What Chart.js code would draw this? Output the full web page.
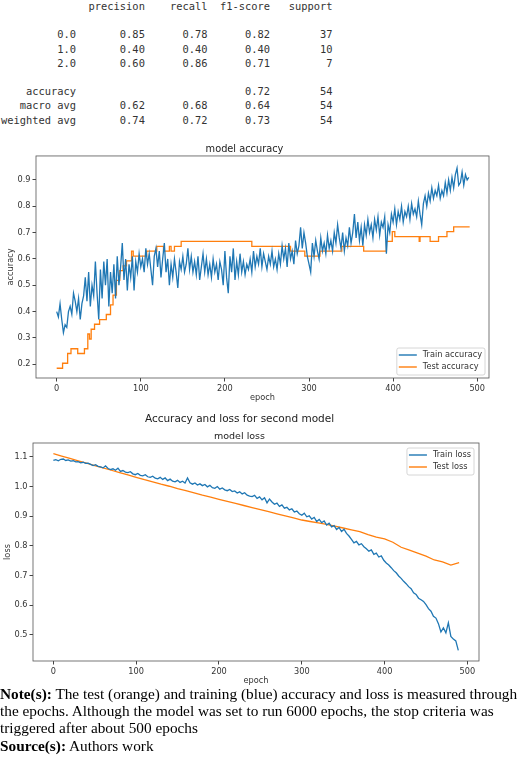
<!DOCTYPE html>
<html>
<head>
<meta charset="utf-8">
<script src="https://cdn.jsdelivr.net/npm/chart.js@4.4.0/dist/chart.umd.min.js"></script>
<style>
  body { margin: 0; background: #fff; width: 520px; height: 767px; position: relative; overflow: hidden; }
  #report { position: absolute; left: 1px; top: -1px; margin: 0; font: 10.4px "DejaVu Sans Mono", monospace; line-height: 14.2px; color: #333; white-space: pre; }
  canvas { position: absolute; left: 0; }
  #acc { top: 140px; }
  #loss { top: 404px; }
  #note { position: absolute; left: 0; top: 685px; width: 520px; font: 15.3px "Liberation Serif", serif; line-height: 17.2px; color: #000; white-space: nowrap; }
</style>
</head>
<body>
<pre id="report"></pre>
<canvas id="acc" width="520" height="268"></canvas>
<canvas id="loss" width="520" height="283"></canvas>
<div id="note"><b>Note(s):</b> The test (orange) and training (blue) accuracy and loss is measured through<br>the epochs. Although the model was set to run 6000 epochs, the stop criteria was<br>triggered after about 500 epochs<br><b>Source(s):</b> Authors work</div>
<script>
// classification report
const reportRows = ["0.0", "1.0", "2.0"];
const precision = ["0.85", "0.40", "0.60"];
const recall = ["0.78", "0.40", "0.86"];
const f1 = ["0.82", "0.40", "0.71"];
const support = [37, 10, 7];
const summaryRows = ["accuracy", "macro avg", "weighted avg"];
const summaryPrec = ["", "0.62", "0.74"];
const summaryRec = ["", "0.68", "0.72"];
const summaryF1 = ["0.72", "0.64", "0.73"];
const summarySup = [54, 54, 54];

// model accuracy (train read every 2 epochs, test as step changes)
const ACC_STEP = 2;
const trainAcc = [
  0.40, 0.38, 0.43, 0.37, 0.32, 0.35, 0.34, 0.40, 0.42, 0.39,
  0.47, 0.44, 0.40, 0.45, 0.37, 0.43, 0.46, 0.53, 0.44, 0.55,
  0.42, 0.50, 0.46, 0.59, 0.47, 0.37, 0.56, 0.45, 0.59, 0.50,
  0.60, 0.42, 0.55, 0.47, 0.58, 0.45, 0.61, 0.50, 0.57, 0.66,
  0.52, 0.60, 0.48, 0.58, 0.53, 0.61, 0.48, 0.59, 0.55, 0.62,
  0.57, 0.60, 0.55, 0.64, 0.58, 0.62, 0.56, 0.50, 0.61, 0.64,
  0.57, 0.63, 0.53, 0.60, 0.66, 0.55, 0.60, 0.50, 0.58, 0.53,
  0.60, 0.55, 0.49, 0.59, 0.56, 0.61, 0.55, 0.58, 0.64, 0.56,
  0.61, 0.55, 0.59, 0.54, 0.61, 0.52, 0.57, 0.62, 0.55, 0.60,
  0.54, 0.58, 0.53, 0.60, 0.55, 0.58, 0.52, 0.59, 0.56, 0.50,
  0.63, 0.53, 0.47, 0.61, 0.55, 0.64, 0.52, 0.59, 0.54, 0.62,
  0.55, 0.59, 0.54, 0.58, 0.56, 0.60, 0.55, 0.63, 0.57, 0.61,
  0.58, 0.64, 0.57, 0.62, 0.59, 0.56, 0.61, 0.58, 0.63, 0.57,
  0.60, 0.56, 0.62, 0.58, 0.65, 0.60, 0.64, 0.57, 0.66, 0.60,
  0.63, 0.58, 0.67, 0.62, 0.65, 0.72, 0.64, 0.70, 0.66, 0.61,
  0.58, 0.55, 0.66, 0.61, 0.67, 0.63, 0.60, 0.68, 0.63, 0.66,
  0.62, 0.69, 0.64, 0.67, 0.63, 0.70, 0.66, 0.73, 0.68, 0.64,
  0.70, 0.63, 0.68, 0.65, 0.72, 0.66, 0.70, 0.77, 0.68, 0.74,
  0.67, 0.72, 0.65, 0.73, 0.69, 0.75, 0.70, 0.73, 0.68, 0.75,
  0.71, 0.76, 0.69, 0.74, 0.72, 0.76, 0.62, 0.73, 0.70, 0.77,
  0.74, 0.79, 0.73, 0.78, 0.75, 0.80, 0.74, 0.78, 0.76, 0.80,
  0.75, 0.81, 0.77, 0.79, 0.76, 0.82, 0.77, 0.73, 0.81, 0.84,
  0.80, 0.85, 0.82, 0.87, 0.83, 0.86, 0.84, 0.88, 0.83, 0.86,
  0.84, 0.89, 0.85, 0.90, 0.86, 0.91, 0.87, 0.92, 0.945, 0.88,
  0.89, 0.93, 0.88, 0.92, 0.90, 0.91
];
const testAccEpochs = [0, 7, 13, 17, 25, 33, 37, 39, 41, 45, 51, 59, 64, 67, 71, 75, 79, 83, 89, 91,
  107, 119, 127, 134, 136, 140, 148, 232, 278, 295, 313, 339, 365, 392, 399, 402, 431, 432, 444, 454,
  464, 472, 491];
const testAcc = [0.185, 0.204, 0.241, 0.259, 0.241, 0.259, 0.315, 0.296, 0.333, 0.352, 0.370, 0.389, 0.426, 0.463, 0.519, 0.556, 0.574, 0.593, 0.630, 0.611,
  0.630, 0.648, 0.630, 0.648, 0.630, 0.648, 0.667, 0.648, 0.630, 0.611, 0.630, 0.648, 0.630, 0.667, 0.704, 0.685, 0.667, 0.685, 0.667, 0.685,
  0.704, 0.722, 0.722];

// model loss
const LOSS_STEP = 3;
const trainLoss = [
  1.088, 1.091, 1.087, 1.092, 1.093, 1.088, 1.090, 1.086, 1.087, 1.083,
  1.084, 1.080, 1.082, 1.078, 1.079, 1.075, 1.071, 1.074, 1.068, 1.066,
  1.063, 1.070, 1.061, 1.057, 1.060, 1.055, 1.062, 1.051, 1.054, 1.049,
  1.047, 1.050, 1.043, 1.040, 1.044, 1.038, 1.036, 1.040, 1.033, 1.031,
  1.035, 1.028, 1.026, 1.031, 1.024, 1.029, 1.020, 1.025, 1.018, 1.016,
  1.021, 1.014, 1.018, 1.012, 1.029, 1.013, 1.008, 1.012, 1.005, 1.009,
  1.003, 1.007, 0.999, 1.004, 0.996, 0.994, 1.000, 0.991, 0.995, 0.989,
  0.986, 0.990, 0.983, 0.985, 0.978, 0.982, 0.975, 0.979, 0.971, 0.968,
  0.966, 0.970, 0.960, 0.965, 0.955, 0.962, 0.945, 0.958, 0.948, 0.940,
  0.944, 0.933, 0.938, 0.927, 0.930, 0.921, 0.925, 0.914, 0.917, 0.908,
  0.903, 0.910, 0.898, 0.901, 0.890, 0.896, 0.882, 0.889, 0.878, 0.884,
  0.870, 0.876, 0.864, 0.868, 0.855, 0.862, 0.848, 0.856, 0.842, 0.833,
  0.822, 0.810, 0.815, 0.803, 0.807, 0.797, 0.790, 0.782, 0.786, 0.771,
  0.775, 0.762, 0.766, 0.751, 0.742, 0.735, 0.726, 0.716, 0.709, 0.698,
  0.690, 0.680, 0.672, 0.662, 0.655, 0.641, 0.636, 0.623, 0.618, 0.612,
  0.601, 0.588, 0.579, 0.562, 0.556, 0.537, 0.509, 0.523, 0.506, 0.540,
  0.494, 0.485, 0.479, 0.447
];
const TEST_LOSS_STEP = 10;
const testLoss = [
  1.111, 1.103, 1.095, 1.087, 1.079, 1.071, 1.063, 1.055, 1.047, 1.039,
  1.031, 1.023, 1.016, 1.008, 1.001, 0.993, 0.986, 0.979, 0.971, 0.964,
  0.957, 0.950, 0.943, 0.936, 0.929, 0.922, 0.915, 0.908, 0.901, 0.894,
  0.887, 0.882, 0.877, 0.872, 0.866, 0.860, 0.854, 0.848, 0.838, 0.829,
  0.823, 0.812, 0.795, 0.785, 0.775, 0.765, 0.752, 0.746, 0.735, 0.743
];
const epochTicks = [0, 100, 200, 300, 400, 500];

// build the text report
function pad(s, n) { s = String(s); while (s.length < n) s = " " + s; return s; }
let lines = [pad("", 12) + " " + pad("precision", 10) + pad("recall", 10) + pad("f1-score", 10) + pad("support", 10), ""];
for (let i = 0; i < reportRows.length; i++) {
  lines.push(pad(reportRows[i], 12) + " " + pad(precision[i], 10) + pad(recall[i], 10) + pad(f1[i], 10) + pad(support[i], 10));
}
lines.push("");
for (let i = 0; i < summaryRows.length; i++) {
  lines.push(pad(summaryRows[i], 12) + " " + pad(summaryPrec[i], 10) + pad(summaryRec[i], 10) + pad(summaryF1[i], 10) + pad(summarySup[i], 10));
}
document.getElementById("report").textContent = lines.join("\n");

const BLUE = "#1f77b4", ORANGE = "#ff7f0e";
const small = { family: "DejaVu Sans", size: 8.2 };

const framePlugin = {
  id: "frame",
  afterDatasetsDraw(chart) {
    const a = chart.chartArea, ctx = chart.ctx;
    ctx.save();
    ctx.strokeStyle = "#555";
    ctx.lineWidth = 0.8;
    ctx.strokeRect(a.left, a.top, a.right - a.left, a.bottom - a.top);
    ctx.restore();
  }
};

const boxLegend = {
  id: "boxLegend",
  afterDraw(chart, args, opts) {
    const ctx = chart.ctx, a = chart.chartArea;
    const ds = chart.data.datasets;
    ctx.save();
    ctx.font = small.size + "px " + small.family;
    const textW = Math.max(...ds.map(d => ctx.measureText(d.label).width));
    const rowH = 12;
    const w = 2 + 18 + 6 + textW + 3;
    const h = ds.length * rowH + 3;
    const x = a.right - opts.right - w;
    const y = opts.top != null ? a.top + opts.top : a.bottom - opts.bottom - h;
    ctx.beginPath();
    ctx.roundRect(x, y, w, h, 2);
    ctx.fillStyle = "rgba(255,255,255,0.8)";
    ctx.fill();
    ctx.strokeStyle = "#ccc";
    ctx.lineWidth = 0.8;
    ctx.stroke();
    ds.forEach((d, i) => {
      const cy = y + 7 + i * rowH;
      ctx.beginPath();
      ctx.moveTo(x + 2, cy);
      ctx.lineTo(x + 20, cy);
      ctx.strokeStyle = d.borderColor;
      ctx.lineWidth = 1.4;
      ctx.stroke();
      ctx.fillStyle = "#333";
      ctx.textBaseline = "middle";
      ctx.fillText(d.label, x + 26, cy);
    });
    ctx.restore();
  }
};

function axes(o) {
  return {
    x: {
      type: "linear", min: -24.6, max: 514,
      afterFit: s => { s.height = o.xh; },
      afterBuildTicks: s => { s.ticks = epochTicks.map(v => ({ value: v })); },
      border: { display: false },
      grid: { drawOnChartArea: false, drawTicks: true, tickLength: 3.5, tickColor: "#444" },
      ticks: { font: small, color: "#333", padding: 2, maxRotation: 0 },
      title: { display: true, text: "epoch", font: small, color: "#333", padding: { top: 0, bottom: o.xtp } }
    },
    y: {
      min: o.ymin, max: o.ymax,
      afterFit: s => { s.width = o.yw; },
      border: { display: false },
      grid: { drawOnChartArea: false, drawTicks: true, tickLength: 3.5, tickColor: "#444" },
      ticks: { stepSize: 0.1, includeBounds: false, font: small, color: "#333", padding: 2,
        callback: v => v.toFixed(1) },
      title: { display: true, text: o.ylabel, font: small, color: "#333", padding: { top: o.ytp, bottom: 0 } }
    }
  };
}

new Chart(document.getElementById("acc"), {
  type: "line",
  data: {
    datasets: [
      { label: "Train accuracy", data: trainAcc.map((v, i) => ({ x: i * ACC_STEP, y: v })),
        borderColor: BLUE, borderWidth: 1.3, pointRadius: 0, tension: 0 },
      { label: "Test accuracy", data: testAcc.map((v, i) => ({ x: testAccEpochs[i], y: v })),
        borderColor: ORANGE, borderWidth: 1.3, pointRadius: 0, stepped: true }
    ]
  },
  options: {
    responsive: false, animation: false, devicePixelRatio: 1,
    layout: { padding: { left: 0, right: 31, top: 0, bottom: 0 } },
    plugins: {
      legend: { display: false },
      tooltip: { enabled: false },
      title: { display: true, text: "model accuracy", color: "#222",
        font: { family: "DejaVu Sans", size: 9.8, weight: "normal" }, padding: { top: 3.1, bottom: 1.1 } },
      boxLegend: { right: 4, bottom: 3 }
    },
    scales: axes({ xh: 30, xtp: 5, yw: 36, ytp: 6, ymin: 0.148, ymax: 0.991, ylabel: "accuracy" })
  },
  plugins: [framePlugin, boxLegend]
});

new Chart(document.getElementById("loss"), {
  type: "line",
  data: {
    datasets: [
      { label: "Train loss", data: trainLoss.map((v, i) => ({ x: i * LOSS_STEP, y: v })),
        borderColor: BLUE, borderWidth: 1.3, pointRadius: 0, tension: 0 },
      { label: "Test loss", data: testLoss.map((v, i) => ({ x: i * TEST_LOSS_STEP, y: v })),
        borderColor: ORANGE, borderWidth: 1.3, pointRadius: 0, tension: 0 }
    ]
  },
  options: {
    responsive: false, animation: false, devicePixelRatio: 1,
    layout: { padding: { left: 0, right: 41, top: 0, bottom: 0 } },
    plugins: {
      legend: { display: false },
      tooltip: { enabled: false },
      title: { display: true, text: "Accuracy and loss for second model", color: "#222",
        font: { family: "DejaVu Sans", size: 10.5, weight: "normal" }, padding: { top: 8.7, bottom: 5.5 } },
      subtitle: { display: true, text: "model loss", color: "#222",
        font: { family: "DejaVu Sans", size: 9.5, weight: "normal" }, padding: { top: 0, bottom: 0.8 } },
      boxLegend: { right: 5, top: 5 }
    },
    scales: axes({ xh: 26, xtp: 1.1, yw: 33, ytp: 3.4, ymin: 0.411, ymax: 1.147, ylabel: "loss" })
  },
  plugins: [framePlugin, boxLegend]
});
</script>
</body>
</html>
